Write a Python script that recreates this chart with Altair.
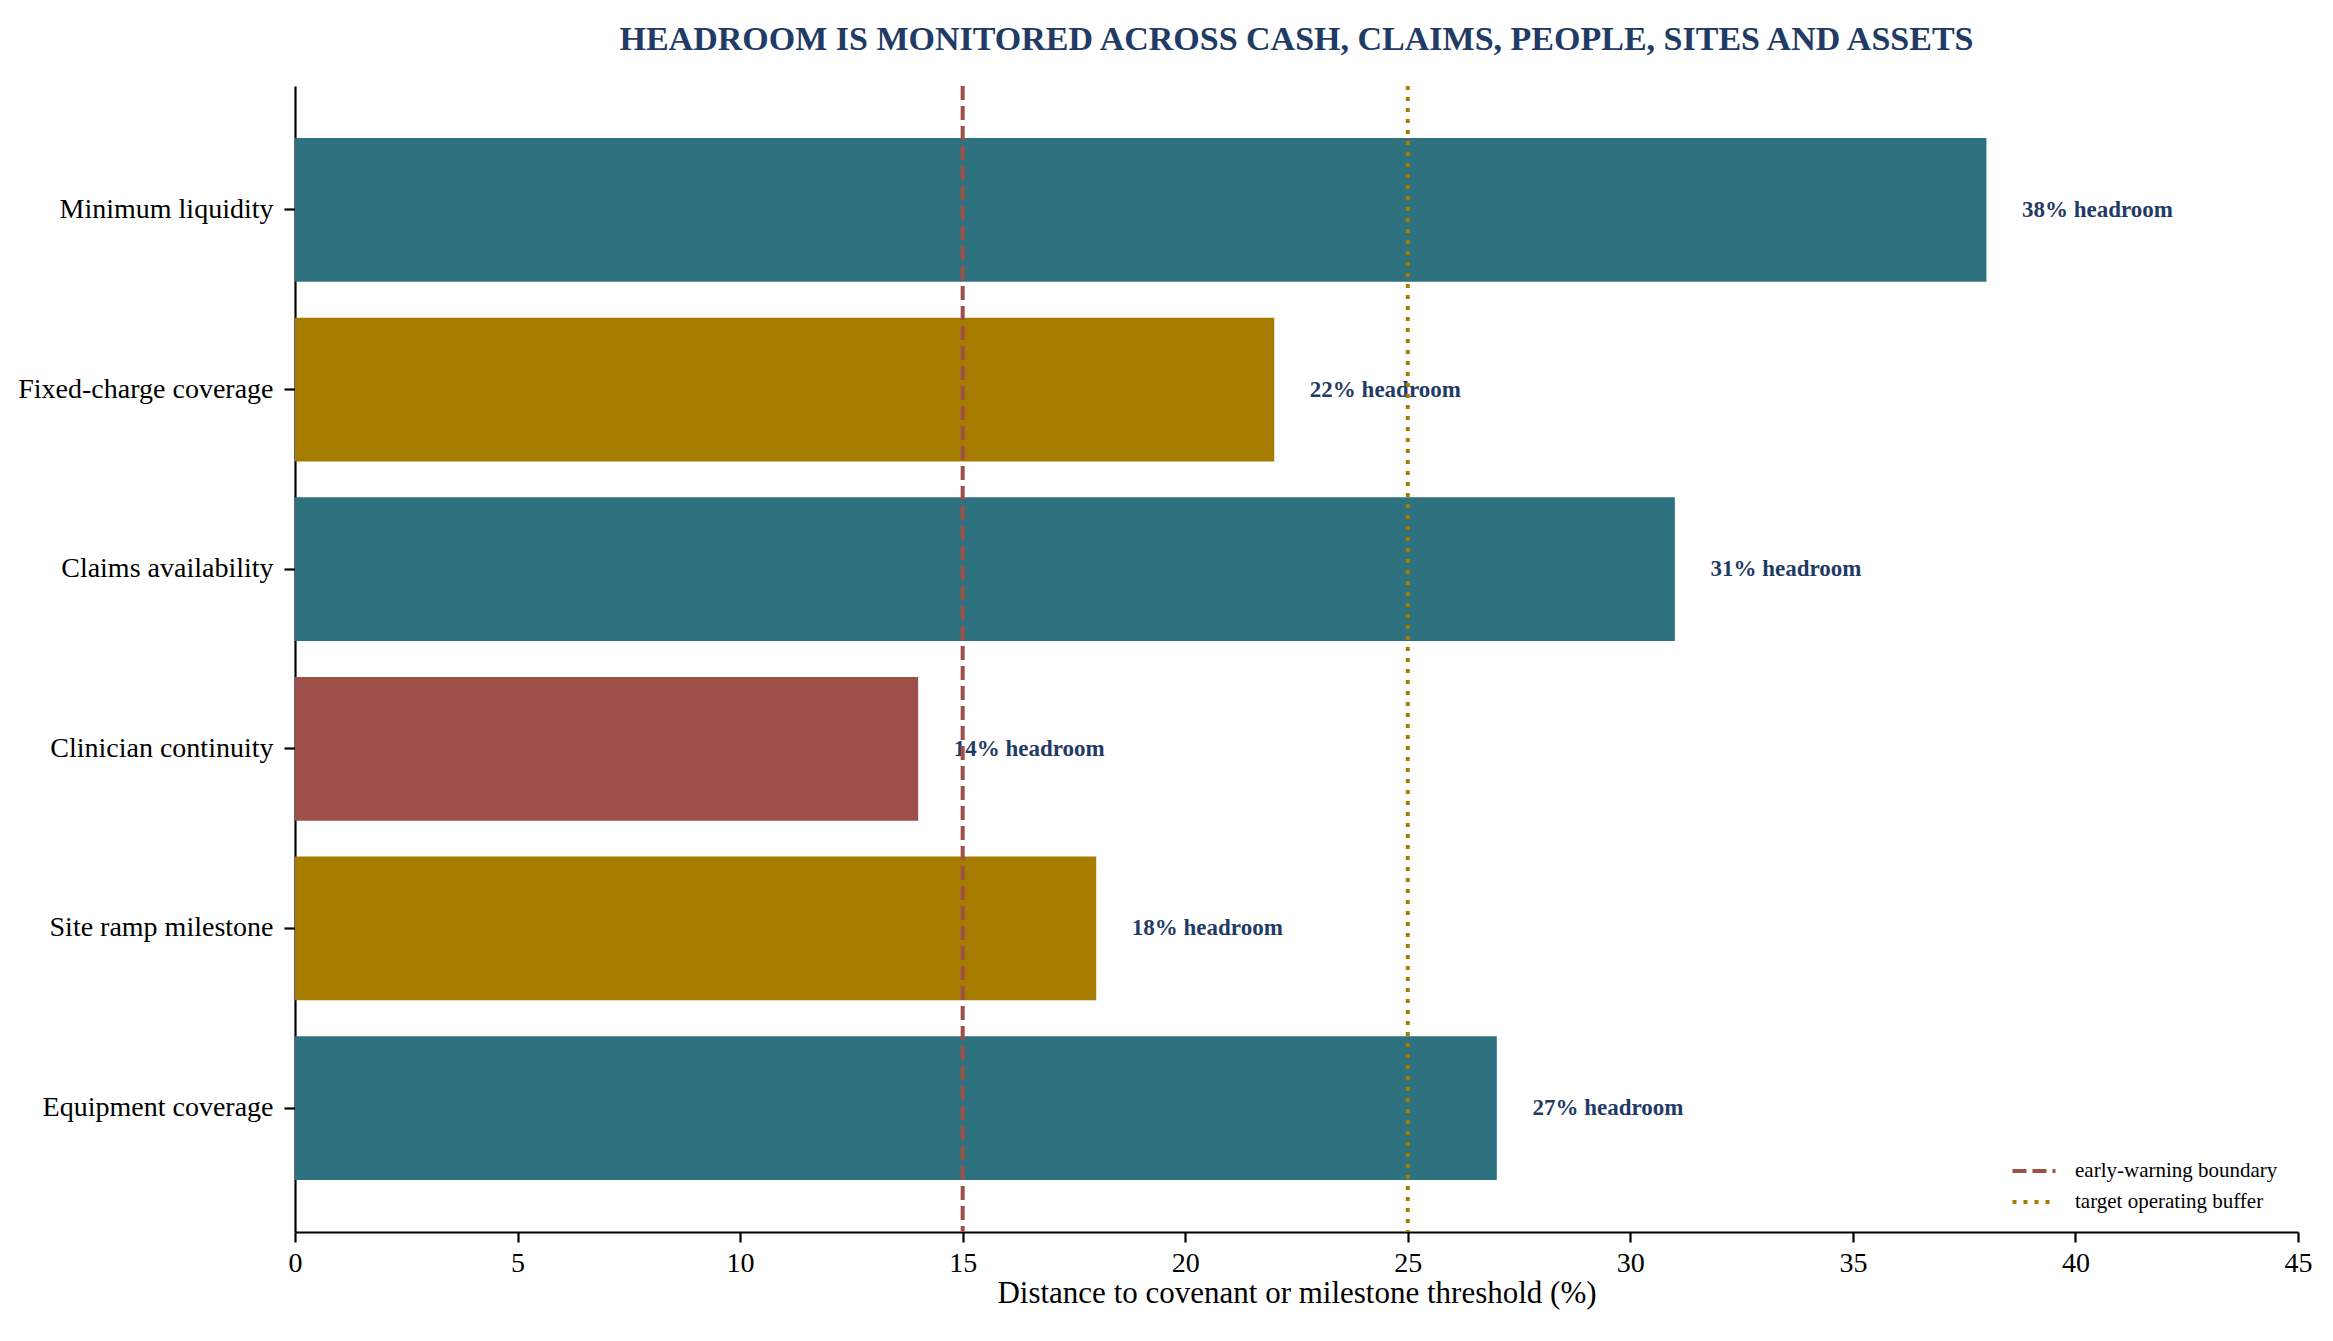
import altair as alt
import pandas as pd

metrics = [
    "Minimum liquidity",
    "Fixed-charge coverage",
    "Claims availability",
    "Clinician continuity",
    "Site ramp milestone",
    "Equipment coverage",
]
headroom = [38, 22, 31, 14, 18, 27]
tiers = ["ample", "watch", "ample", "tight", "watch", "ample"]

line_names = ["early-warning boundary", "target operating buffer"]
line_values = [15, 25]

x_ticks = [0, 5, 10, 15, 20, 25, 30, 35, 40, 45]

FONT = "Liberation Serif"
NAVY = "#1f3b66"
TEAL = "#2e717f"
GOLD = "#a67c00"
RED = "#9e4f47"

df = pd.DataFrame({
    "metric": metrics,
    "headroom": headroom,
    "tier": tiers,
})
df["label"] = df.headroom.astype(str) + "% headroom"

lines = pd.DataFrame({"name": line_names, "value": line_values})

x_scale = alt.Scale(domain=[0, 45], nice=False, zero=True)

y_enc = alt.Y(
    "metric:N",
    sort=metrics,
    scale=alt.Scale(paddingInner=0.2, paddingOuter=0.29),
    axis=alt.Axis(
        title=None,
        labelFont=FONT,
        labelFontSize=28,
        labelColor="black",
        labelPadding=11,
        labelLimit=0,
        tickSize=11,
        tickWidth=2.2,
        tickColor="black",
        domainColor="black",
        domainWidth=2.2,
        grid=False,
    ),
)

bars = alt.Chart(df).mark_bar().encode(
    x=alt.X(
        "headroom:Q",
        scale=x_scale,
        axis=alt.Axis(
            values=x_ticks,
            title="Distance to covenant or milestone threshold (%)",
            titleFont=FONT,
            titleFontSize=31,
            titleFontWeight="normal",
            titleColor="black",
            titlePadding=1,
            labelFont=FONT,
            labelFontSize=28,
            labelColor="black",
            labelPadding=7,
            labelFlush=False,
            tickSize=10,
            tickWidth=2.2,
            tickColor="black",
            domainColor="black",
            domainWidth=2.2,
            grid=False,
        ),
    ),
    y=y_enc,
    color=alt.Color(
        "tier:N",
        scale=alt.Scale(domain=["ample", "watch", "tight"], range=[TEAL, GOLD, RED]),
        legend=None,
    ),
)

labels = alt.Chart(df).transform_calculate(
    label_x="datum.headroom + 0.8"
).mark_text(
    align="left",
    baseline="middle",
    font=FONT,
    fontSize=23,
    fontWeight="bold",
    color=NAVY,
).encode(
    x=alt.X("label_x:Q", scale=x_scale),
    y=y_enc,
    text="label:N",
)

# a wide flat path: twice as long as the size implies, so rows stay tight
legend = alt.Legend(
    title=None,
    orient="bottom-right",
    offset=20,
    padding=0,
    labelFont=FONT,
    labelFontSize=21,
    labelColor="black",
    labelLimit=0,
    labelOffset=28,
    rowPadding=8,
    symbolType="M-2,0L2,0",
    symbolSize=462,
    symbolStrokeWidth=4,
)

rules = alt.Chart(lines).mark_rule(strokeWidth=4).encode(
    x=alt.X("value:Q", scale=x_scale),
    stroke=alt.Stroke(
        "name:N",
        scale=alt.Scale(domain=line_names, range=[RED, GOLD]),
        legend=legend,
    ),
    strokeDash=alt.StrokeDash(
        "name:N",
        scale=alt.Scale(domain=line_names, range=[[14, 6], [4, 7]]),
        legend=legend,
    ),
)

chart = alt.layer(bars, labels, rules).properties(
    width=2003,
    height=1146,
    autosize=alt.AutoSizeParams(type="none"),
    padding={"left": 287, "top": 78, "right": 20, "bottom": 95},
    title=alt.Title(
        "HEADROOM IS MONITORED ACROSS CASH, CLAIMS, PEOPLE, SITES AND ASSETS",
        font=FONT,
        fontSize=34,
        fontWeight="bold",
        color=NAVY,
        anchor="middle",
        frame="group",
        baseline="alphabetic",
        offset=0,
    ),
).configure_view(
    stroke=None,
)

chart.save("out.html", embed_options={"renderer": "svg", "actions": False})
